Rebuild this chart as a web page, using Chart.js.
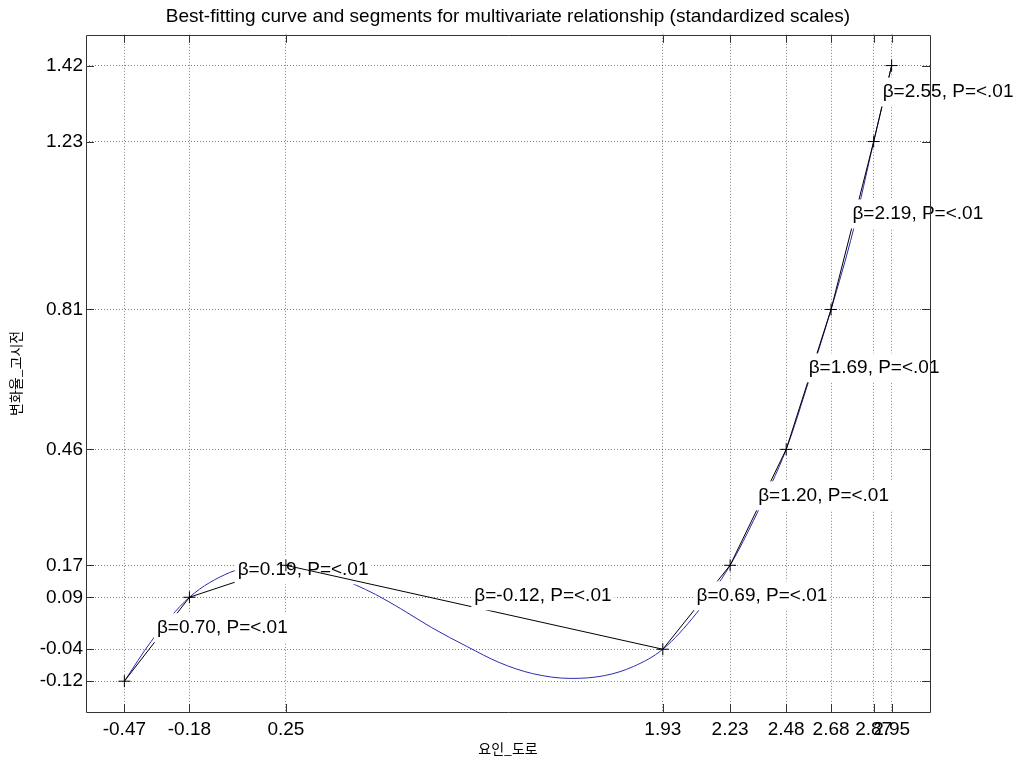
<!DOCTYPE html>
<html>
<head>
<meta charset="utf-8">
<script src="https://cdn.jsdelivr.net/npm/chart.js@4.4.1/dist/chart.umd.min.js"></script>
<style>
html, body { margin: 0; padding: 0; background: #fff; }
#wrap { width: 1021px; height: 764px; }
</style>
</head>
<body>
<div id="wrap"><canvas id="chart"></canvas></div>
<script>
// segment knots (x = 요인_도로, y = 변화율_고시전)
const knotX = [-0.47, -0.18, 0.25, 1.93, 2.23, 2.48, 2.68, 2.87, 2.95];
const knotY = [-0.12, 0.09, 0.17, -0.04, 0.17, 0.46, 0.81, 1.23, 1.42];
const betaLabels = ['0.70', '0.19', '-0.12', '0.69', '1.20', '1.69', '2.19', '2.55'];

// best-fitting curve
const curveX = [-0.47, -0.35, -0.18, 0.0, 0.1, 0.2, 0.3, 0.45, 0.56, 0.65, 0.76, 0.9, 1.06, 1.2, 1.35, 1.52, 1.67, 1.8, 1.93, 2.08, 2.23, 2.35, 2.48, 2.58, 2.68, 2.78, 2.87, 2.95];
const curveY = [-0.12, -0.02, 0.09, 0.152, 0.166, 0.17, 0.166, 0.146, 0.121, 0.097, 0.062, 0.014, -0.034, -0.073, -0.101, -0.113, -0.106, -0.083, -0.04, 0.05, 0.17, 0.30, 0.46, 0.63, 0.81, 1.01, 1.23, 1.42];

const xTicks = knotX;
const yTicks = [-0.12, -0.04, 0.09, 0.17, 0.46, 0.81, 1.23, 1.42];

const FONT = '"Liberation Sans", Arial, Helvetica, sans-serif';
const KFONT = '"Noto Sans CJK KR", "Liberation Sans", sans-serif';
Chart.defaults.font.family = FONT;
Chart.defaults.color = '#000';

const padOf = arr => (Math.max(...arr) - Math.min(...arr)) * 0.05;
const xPad = padOf(knotX);
const yPad = padOf(knotY);

const segLabels = {
    id: 'segLabels',
    afterDatasetDraw(chart, args) {
        const ds = chart.data.datasets[args.index];
        if (ds.seg === undefined) return;
        const i = ds.seg;
        const { ctx, scales: { x, y } } = chart;
        const px = x.getPixelForValue((knotX[i] + knotX[i + 1]) / 2);
        const py = y.getPixelForValue((knotY[i] + knotY[i + 1]) / 2);
        const text = 'β=' + betaLabels[i] + ', P=<.01';
        ctx.save();
        ctx.font = '19px ' + FONT;
        const w = ctx.measureText(text).width;
        ctx.fillStyle = '#fff';
        ctx.fillRect(px - 3, py - 26, w + 6, 29);
        ctx.fillStyle = '#000';
        ctx.textBaseline = 'middle';
        ctx.fillText(text, px, py - 11.5);
        ctx.restore();
    }
};

// MATLAB style box with inward ticks
const frame = {
    id: 'frame',
    afterDraw(chart) {
        const { ctx, chartArea: a, scales: { x, y } } = chart;
        ctx.save();
        ctx.strokeStyle = '#333';
        ctx.lineWidth = 1;
        ctx.beginPath();
        xTicks.forEach(v => {
            const px = Math.round(x.getPixelForValue(v)) + 0.5;
            ctx.moveTo(px, a.bottom); ctx.lineTo(px, a.bottom - 8);
            ctx.moveTo(px, a.top); ctx.lineTo(px, a.top + 8);
        });
        yTicks.forEach(v => {
            const py = Math.round(y.getPixelForValue(v)) + 0.5;
            ctx.moveTo(a.left, py); ctx.lineTo(a.left + 8, py);
            ctx.moveTo(a.right, py); ctx.lineTo(a.right - 8, py);
        });
        ctx.rect(Math.round(a.left) + 0.5, Math.round(a.top) + 0.5, Math.round(a.right - a.left), Math.round(a.bottom - a.top));
        ctx.stroke();
        ctx.restore();
    }
};

const datasets = [{
    label: 'curve',
    data: curveX.map((v, k) => ({ x: v, y: curveY[k] })),
    showLine: true,
    borderColor: '#2b2bb0',
    borderWidth: 1,
    pointRadius: 0,
    cubicInterpolationMode: 'monotone',
    order: 20
}];
betaLabels.forEach((b, i) => {
    datasets.push({
        label: 'seg' + i,
        seg: i,
        data: [{ x: knotX[i], y: knotY[i] }, { x: knotX[i + 1], y: knotY[i + 1] }],
        showLine: true,
        borderColor: '#000',
        borderWidth: 1,
        pointRadius: 0,
        order: 10 - i
    });
});
datasets.push({
    label: 'knots',
    data: knotX.map((v, k) => ({ x: v, y: knotY[k] })),
    showLine: false,
    pointStyle: 'cross',
    pointRadius: 6,
    pointBorderColor: '#000',
    pointBorderWidth: 1,
    order: 0
});

const gridOpts = { color: 'rgba(0,0,0,0.5)', lineWidth: 1, drawTicks: false };

new Chart(document.getElementById('chart'), {
    type: 'scatter',
    data: { datasets },
    options: {
        responsive: true,
        maintainAspectRatio: false,
        animation: false,
        layout: { padding: { left: 0, right: 91, top: 0, bottom: 0 } },
        plugins: {
            legend: { display: false },
            tooltip: { enabled: false },
            title: {
                display: true,
                fullSize: false,
                text: 'Best-fitting curve and segments for multivariate relationship (standardized scales)',
                font: { size: 19, weight: 'normal' },
                color: '#000',
                padding: { top: 5, bottom: 7 }
            }
        },
        scales: {
            x: {
                type: 'linear',
                min: Math.min(...knotX) - xPad,
                max: Math.max(...knotX) + xPad,
                afterBuildTicks: s => { s.ticks = xTicks.map(v => ({ value: v })); },
                afterFit: s => { s.height = 52; },
                ticks: { autoSkip: false, maxRotation: 0, padding: 6, font: { size: 19 }, callback: v => v.toFixed(2) },
                grid: gridOpts,
                border: { display: false, dash: [1, 2] },
                title: { display: true, text: '요인_도로', font: { size: 14, family: KFONT }, padding: { top: 0, bottom: 7 } }
            },
            y: {
                type: 'linear',
                min: Math.min(...knotY) - yPad,
                max: Math.max(...knotY) + yPad,
                afterBuildTicks: s => { s.ticks = yTicks.map(v => ({ value: v })); },
                afterFit: s => { s.width = 86; },
                ticks: { autoSkip: false, padding: 3, font: { size: 19 }, callback: v => v.toFixed(2) },
                grid: gridOpts,
                border: { display: false, dash: [1, 2] },
                title: { display: true, text: '변화율_고시전', font: { size: 14, family: KFONT }, padding: { top: 7, bottom: 0 } }
            }
        }
    },
    plugins: [segLabels, frame]
});
</script>
</body>
</html>
